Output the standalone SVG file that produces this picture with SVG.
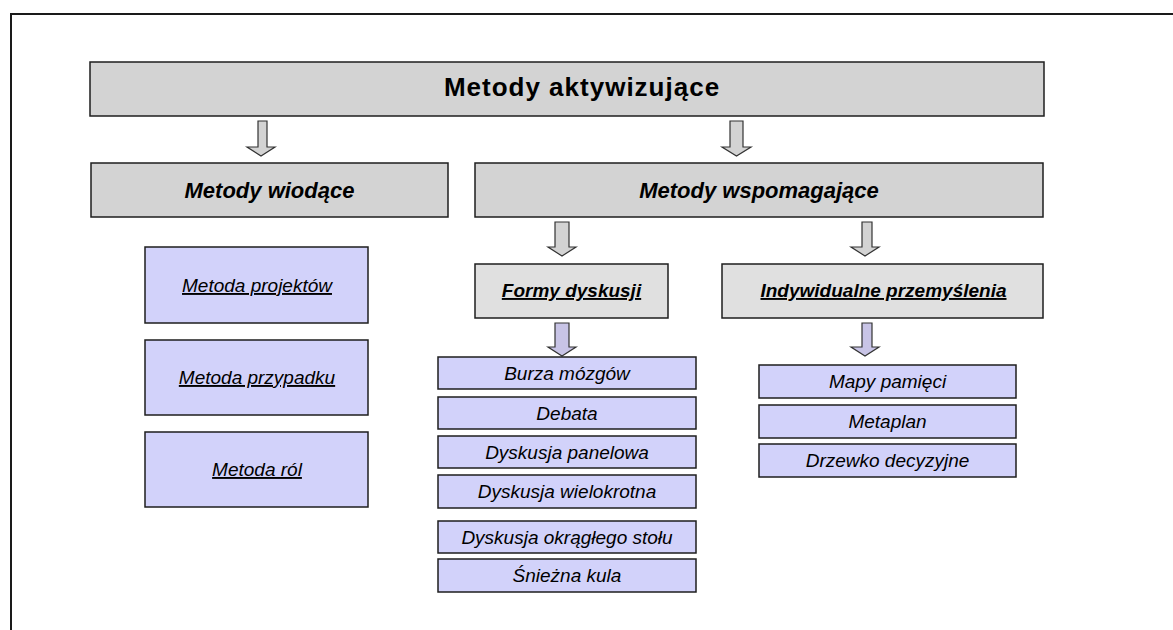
<svg xmlns="http://www.w3.org/2000/svg" width="1173" height="630" viewBox="0 0 1173 630">
  <style>
    .frame { fill: none; stroke: #1a1a1a; stroke-width: 2; }
    .grey { fill: #d3d3d3; stroke: #1e1e1e; stroke-width: 1.5; }
    .light { fill: #e0e0e0; stroke: #1e1e1e; stroke-width: 1.5; }
    .lav { fill: #d2d2fa; stroke: #1e1e1e; stroke-width: 1.5; }
    .arrow-grey { fill: #d3d3d3; stroke: #333; stroke-width: 1.2; }
    .arrow-lav { fill: #c8c4e6; stroke: #333; stroke-width: 1.2; }
    text { font-family: "Liberation Sans", Arial, sans-serif; fill: #000; text-anchor: middle; }
    .title { font-size: 26px; font-weight: bold; letter-spacing: 1px; }
    .h2 { font-size: 22px; font-weight: bold; font-style: italic; }
    .h3 { font-size: 19px; font-weight: bold; font-style: italic; text-decoration: underline; }
    .item { font-size: 19px; font-style: italic; }
    .item-u { font-size: 19px; font-style: italic; text-decoration: underline; }
  </style>

  <rect width="1173" height="630" fill="#ffffff"/>
  <rect class="frame" x="11" y="14" width="1200" height="700"/>

  <!-- block arrows between levels -->
  <g id="connectors">
    <path class="arrow-grey" d="M258 121 H267 V147 H275 L261 156 L247 147 H258 Z"/>
    <path class="arrow-grey" d="M730 121 H743 V147 H751 L736.5 156 L722 147 H730 Z"/>
    <path class="arrow-grey" d="M555 222 H569 V247 H576 L562 256 L548 247 H555 Z"/>
    <path class="arrow-grey" d="M862 222 H872 V247 H879 L865 256 L851 247 H862 Z"/>
    <path class="arrow-lav" d="M555 323 H569 V347 H576 L562 356 L548 347 H555 Z"/>
    <path class="arrow-lav" d="M862 323 H872 V347 H879 L865 356 L851 347 H862 Z"/>
  </g>

  <g id="metody-aktywizujace">
    <rect class="grey" x="90" y="62" width="954" height="54"/>
    <text class="title" x="582" y="96">Metody aktywizujące</text>
  </g>

  <g id="metody-wiodace">
    <rect class="grey" x="91" y="163" width="357" height="54"/>
    <text class="h2" x="269.5" y="198">Metody wiodące</text>
  </g>

  <g id="metody-wspomagajace">
    <rect class="grey" x="475" y="163" width="568" height="54"/>
    <text class="h2" x="759" y="198">Metody wspomagające</text>
  </g>

  <g id="formy-dyskusji">
    <rect class="light" x="475" y="264" width="193" height="54"/>
    <text class="h3" x="571.5" y="297">Formy dyskusji</text>
  </g>

  <g id="indywidualne-przemyslenia">
    <rect class="light" x="722" y="264" width="321" height="54"/>
    <text class="h3" x="883.5" y="297">Indywidualne przemyślenia</text>
  </g>

  <g id="metoda-projektow">
    <rect class="lav" x="145" y="247" width="223" height="76"/>
    <text class="item-u" x="257" y="292">Metoda projektów</text>
  </g>
  <g id="metoda-przypadku">
    <rect class="lav" x="145" y="340" width="223" height="75"/>
    <text class="item-u" x="257" y="384">Metoda przypadku</text>
  </g>
  <g id="metoda-rol">
    <rect class="lav" x="145" y="432" width="223" height="75"/>
    <text class="item-u" x="257" y="476">Metoda ról</text>
  </g>

  <g id="burza-mozgow">
    <rect class="lav" x="438" y="357" width="258" height="32"/>
    <text class="item" x="567" y="380">Burza mózgów</text>
  </g>
  <g id="debata">
    <rect class="lav" x="438" y="397" width="258" height="32"/>
    <text class="item" x="567" y="420">Debata</text>
  </g>
  <g id="dyskusja-panelowa">
    <rect class="lav" x="438" y="436" width="258" height="32"/>
    <text class="item" x="567" y="459">Dyskusja panelowa</text>
  </g>
  <g id="dyskusja-wielokrotna">
    <rect class="lav" x="438" y="475" width="258" height="33"/>
    <text class="item" x="567" y="498">Dyskusja wielokrotna</text>
  </g>
  <g id="dyskusja-okraglego-stolu">
    <rect class="lav" x="438" y="521" width="258" height="32"/>
    <text class="item" x="567" y="544">Dyskusja okrągłego stołu</text>
  </g>
  <g id="sniezna-kula">
    <rect class="lav" x="438" y="559" width="258" height="33"/>
    <text class="item" x="567" y="582">Śnieżna kula</text>
  </g>

  <g id="mapy-pamieci">
    <rect class="lav" x="759" y="365" width="257" height="33"/>
    <text class="item" x="887.5" y="388">Mapy pamięci</text>
  </g>
  <g id="metaplan">
    <rect class="lav" x="759" y="405" width="257" height="33"/>
    <text class="item" x="887.5" y="428">Metaplan</text>
  </g>
  <g id="drzewko-decyzyjne">
    <rect class="lav" x="759" y="444" width="257" height="33"/>
    <text class="item" x="887.5" y="467">Drzewko decyzyjne</text>
  </g>
</svg>
